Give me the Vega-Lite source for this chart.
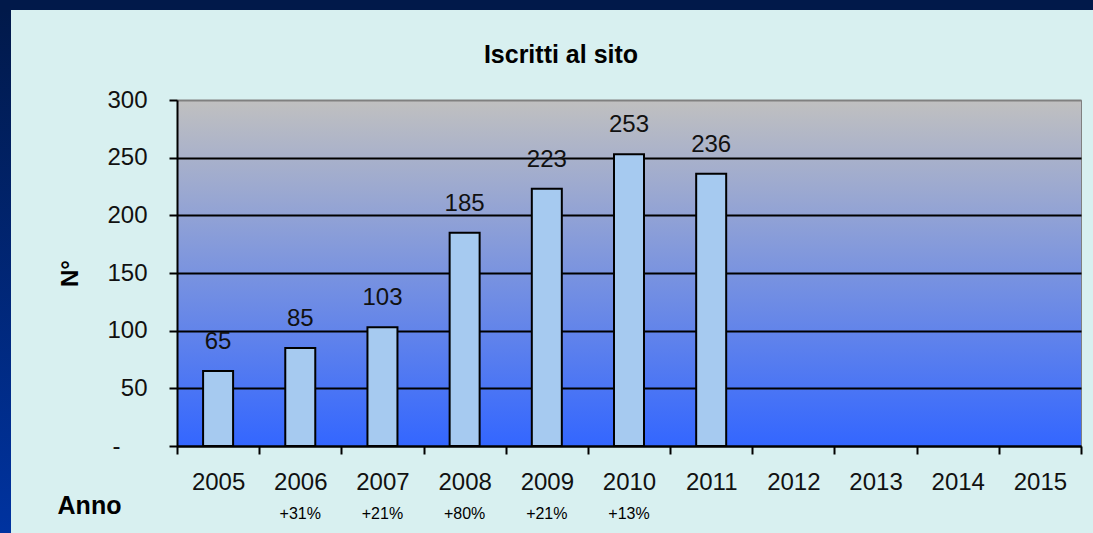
{
  "$schema": "https://vega.github.io/schema/vega-lite/v6.json",
  "background": "#D8F0F0",
  "padding": 0,
  "spacing": 0,
  "config": {
    "font": "Liberation Sans",
    "text": {"font": "Liberation Sans", "color": "#111111"},
    "concat": {"spacing": 0}
  },
  "vconcat": [
    {
      "width": 1093,
      "height": 10,
      "view": {"fill": "#01194a", "stroke": null},
      "data": {"values": []},
      "mark": "rect",
      "encoding": {}
    },
    {
      "spacing": 45,
      "hconcat": [
        {
          "width": 11,
          "height": 433,
          "view": {"stroke": null},
          "data": {"values": [{}]},
          "mark": {
            "type": "rect",
            "clip": false,
            "fill": {
              "gradient": "linear", "x1": 0, "y1": 0, "x2": 0, "y2": 1,
              "stops": [{"offset": 0, "color": "#01194a"}, {"offset": 1, "color": "#0033a0"}]
            }
          },
          "encoding": {
            "y": {"datum": 523, "type": "quantitative", "scale": {"domain": [0, 433], "nice": false, "zero": false}, "axis": null},
            "y2": {"datum": 0}
          }
        },
        {
          "width": 904,
          "height": 346,
          "view": {
            "stroke": "#808080",
            "strokeWidth": 1,
            "fill": {
              "gradient": "linear", "x1": 0, "y1": 0, "x2": 0, "y2": 1,
              "stops": [{"offset": 0, "color": "#C0C0C0"}, {"offset": 1, "color": "#3366FF"}]
            }
          },
          "title": {
            "text": ["", "Iscritti al sito"],
            "fontSize": 25,
            "fontWeight": "bold",
            "font": "Liberation Sans",
            "color": "#000000",
            "anchor": "middle",
            "frame": "group",
            "dx": -68,
            "offset": 20,
            "lineHeight": 32
          },
          "data": {
            "values": [
              {"anno": "2005", "n": 65, "pct": null},
              {"anno": "2006", "n": 85, "pct": "+31%"},
              {"anno": "2007", "n": 103, "pct": "+21%"},
              {"anno": "2008", "n": 185, "pct": "+80%"},
              {"anno": "2009", "n": 223, "pct": "+21%"},
              {"anno": "2010", "n": 253, "pct": "+13%"},
              {"anno": "2011", "n": 236, "pct": null},
              {"anno": "2012", "n": null, "pct": null},
              {"anno": "2013", "n": null, "pct": null},
              {"anno": "2014", "n": null, "pct": null},
              {"anno": "2015", "n": null, "pct": null}
            ]
          },
          "encoding": {
            "x": {
              "field": "anno",
              "type": "ordinal",
              "scale": {
                "domain": ["2005", "2006", "2007", "2008", "2009", "2010", "2011", "2012", "2013", "2014", "2015"],
                "paddingInner": 0,
                "paddingOuter": 0
              },
              "axis": {
                "title": "Anno",
                "titleFontSize": 25,
                "titleFontWeight": "bold",
                "titleColor": "#000000",
                "titleX": -88,
                "titleY": 59,
                "titleBaseline": "middle",
                "titleAlign": "center",
                "titleAngle": 0,
                "labelAngle": 0,
                "labelFontSize": 24,
                "labelColor": "#111111",
                "labelBaseline": "middle",
                "labelPadding": 28,
                "tickBand": "extent",
                "tickSize": 8,
                "tickWidth": 2,
                "tickColor": "#000000",
                "domainColor": "#000000",
                "domainWidth": 2,
                "grid": false
              }
            }
          },
          "layer": [
            {
              "mark": {"type": "bar", "width": 30, "fill": "#A6CAF0", "stroke": "#000000", "strokeWidth": 2},
              "encoding": {
                "y": {
                  "field": "n",
                  "type": "quantitative",
                  "scale": {"domain": [0, 300], "nice": false},
                  "axis": {
                    "title": "N°",
                    "titleFontSize": 24,
                    "titleFontWeight": "bold",
                    "titleColor": "#000000",
                    "titlePadding": 24,
                    "values": [0, 50, 100, 150, 200, 250, 300],
                    "labelExpr": "datum.value == 0 ? '-' : datum.label",
                    "labelFontSize": 24,
                    "labelColor": "#111111",
                    "labelPadding": {"condition": {"test": "datum.value === 0", "value": 49}, "value": 22},
                    "tickSize": 8,
                    "tickWidth": 2,
                    "tickColor": "#000000",
                    "domainColor": "#000000",
                    "domainWidth": 2,
                    "grid": true,
                    "gridColor": {"condition": {"test": "datum.value === 300", "value": "#808080"}, "value": "#000000"},
                    "gridWidth": 2,
                    "gridOpacity": 1
                  }
                }
              }
            },
            {
              "mark": {"type": "text", "baseline": "middle", "dy": -29, "fontSize": 24, "font": "Liberation Sans", "color": "#111111"},
              "encoding": {
                "y": {"field": "n", "type": "quantitative"},
                "text": {"field": "n", "type": "quantitative"}
              }
            },
            {
              "transform": [{"filter": "datum.pct != null"}],
              "mark": {"type": "text", "baseline": "middle", "dy": 68, "fontSize": 16, "font": "Liberation Sans", "color": "#000000"},
              "encoding": {
                "y": {"datum": 0},
                "text": {"field": "pct", "type": "nominal"}
              }
            }
          ]
        }
      ]
    }
  ]
}
